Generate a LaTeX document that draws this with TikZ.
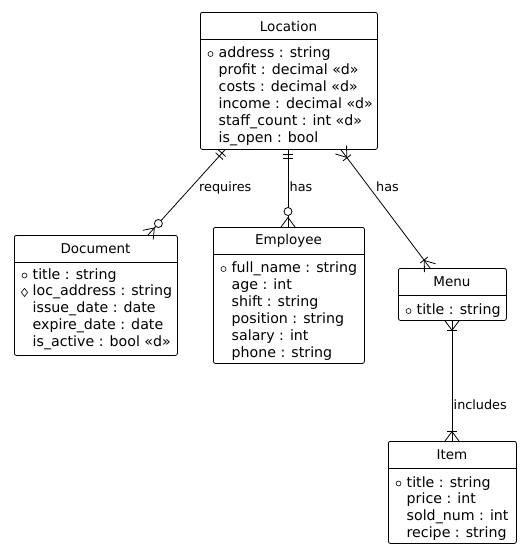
\documentclass[tikz,border=0pt]{standalone}
\usepackage{fontspec}
\setmainfont{DejaVu Sans}
\usetikzlibrary{calc,shapes.geometric}
\tikzset{
  ebox/.style={draw, line width=0.8pt, rounded corners=2pt, anchor=north west, inner sep=0pt},
  ettl/.style={font=\fontsize{13.5}{16}\selectfont, inner sep=0pt},
  eattr/.style={font=\fontsize{14.2}{17}\selectfont, anchor=west, inner sep=0pt, text height=10pt, text depth=3pt, yshift=-2pt},
  pkc/.style={draw, circle, line width=0.6pt, minimum size=5pt, inner sep=0pt, yshift=-2pt},
  fkd/.style={draw, diamond, line width=0.6pt, minimum width=6.5pt, minimum height=8.5pt, inner sep=0pt, yshift=-2pt},
  conn/.style={line width=0.8pt},
  rlbl/.style={font=\fontsize{12.8}{15}\selectfont, inner sep=0pt, text height=9pt, text depth=3pt},
}
\newcommand\mkfoot[2]{%
  \draw[conn] ($(#1)!7pt!90:(#2)$) -- ($(#1)!9.5pt!(#2)$) -- ($(#1)!7pt!-90:(#2)$);}
\newcommand\mkbar[3]{%
  \coordinate (mktmp) at ($(#1)!#3!(#2)$);
  \draw[conn] ($(mktmp)!5pt!90:(#2)$) -- ($(mktmp)!5pt!-90:(#2)$);}
\newcommand\mkcirc[2]{%
  \coordinate (mktmp) at ($(#1)!15.5pt!(#2)$);
  \draw[conn, fill=white] (mktmp) circle (4pt);}
\begin{document}
\begin{tikzpicture}[x=1pt,y=-1pt]
\useasboundingbox (0,0) rectangle (521,549);

% ---------------- Location
\node[ebox, minimum width=177pt, minimum height=137pt] (loc) at (200,12) {};
\draw[conn] ([yshift=-27pt]loc.north west) -- ([yshift=-27pt]loc.north east);
\node[ettl] (locT) at (288.5,26) {Location};
\node[pkc] (locK) at (210.5,52) {};
\node[eattr] (locA1) at (218.5,52) {address : string};
\node[eattr] (locA2) at (218.5,68.9) {profit : decimal «d»};
\node[eattr] (locA3) at (218.5,85.8) {costs : decimal «d»};
\node[eattr] (locA4) at (218.5,102.7) {income : decimal «d»};
\node[eattr] (locA5) at (218.5,119.6) {staff\_count : int «d»};
\node[eattr] (locA6) at (218.5,136.5) {is\_open : bool};

% ---------------- Document
\node[ebox, minimum width=163pt, minimum height=120pt] (doc) at (14,235) {};
\draw[conn] ([yshift=-27pt]doc.north west) -- ([yshift=-27pt]doc.north east);
\node[ettl] (docT) at (95.5,249) {Document};
\node[pkc] (docK) at (24.5,273.5) {};
\node[fkd] (docF) at (24.5,290.4) {};
\node[eattr] (docA1) at (32.5,273.5) {title : string};
\node[eattr] (docA2) at (32.5,290.4) {loc\_address : string};
\node[eattr] (docA3) at (32.5,307.3) {issue\_date : date};
\node[eattr] (docA4) at (32.5,324.2) {expire\_date : date};
\node[eattr] (docA5) at (32.5,341.1) {is\_active : bool «d»};

% ---------------- Employee
\node[ebox, minimum width=151pt, minimum height=136pt] (emp) at (213,227) {};
\draw[conn] ([yshift=-27pt]emp.north west) -- ([yshift=-27pt]emp.north east);
\node[ettl] (empT) at (288.5,241) {Employee};
\node[pkc] (empK) at (223.5,267) {};
\node[eattr] (empA1) at (231.5,267) {full\_name : string};
\node[eattr] (empA2) at (231.5,283.9) {age : int};
\node[eattr] (empA3) at (231.5,300.8) {shift : string};
\node[eattr] (empA4) at (231.5,317.7) {position : string};
\node[eattr] (empA5) at (231.5,334.6) {salary : int};
\node[eattr] (empA6) at (231.5,351.5) {phone : string};

% ---------------- Menu
\node[ebox, minimum width=108pt, minimum height=52pt] (men) at (398,268) {};
\draw[conn] ([yshift=-27pt]men.north west) -- ([yshift=-27pt]men.north east);
\node[ettl] (menT) at (452,282) {Menu};
\node[pkc] (menK) at (408.5,309) {};
\node[eattr] (menA1) at (416.5,309) {title : string};

% ---------------- Item
\node[ebox, minimum width=128pt, minimum height=102pt] (itm) at (388,441) {};
\draw[conn] ([yshift=-27pt]itm.north west) -- ([yshift=-27pt]itm.north east);
\node[ettl] (itmT) at (452,455) {Item};
\node[pkc] (itmK) at (398.5,481.5) {};
\node[eattr] (itmA1) at (406.5,481.5) {title : string};
\node[eattr] (itmA2) at (406.5,498.4) {price : int};
\node[eattr] (itmA3) at (406.5,515.3) {sold\_num : int};
\node[eattr] (itmA4) at (406.5,532.2) {recipe : string};

% ---------------- connection points
\coordinate (locD) at ([xshift=25pt]loc.south west);
\coordinate (docL) at ([xshift=134pt]doc.north west);
\coordinate (locE) at ([xshift=88pt]loc.south west);
\coordinate (empL) at ([xshift=75pt]emp.north west);
\coordinate (locM) at ([xshift=141pt]loc.south west);
\coordinate (menL) at ([xshift=32pt]men.north west);
\coordinate (menI) at ([xshift=54pt]men.south west);
\coordinate (itmM) at ([xshift=64pt]itm.north west);

% Location -- Document
\draw[conn] (locD) -- (docL);
\mkbar{locD}{docL}{4.5pt}
\mkbar{locD}{docL}{8.5pt}
\mkfoot{docL}{locD}
\mkcirc{docL}{locD}
\node[rlbl, anchor=west] (lblReq) at (199,188) {requires};

% Location -- Employee
\draw[conn] (locE) -- (empL);
\mkbar{locE}{empL}{4.5pt}
\mkbar{locE}{empL}{8.5pt}
\mkfoot{empL}{locE}
\mkcirc{empL}{locE}
\node[rlbl, anchor=west] (lblHas1) at (289.5,188) {has};

% Location -- Menu
\draw[conn] (locM) -- (menL);
\mkfoot{locM}{menL}
\mkbar{locM}{menL}{10pt}
\mkfoot{menL}{locM}
\mkbar{menL}{locM}{10pt}
\node[rlbl, anchor=west] (lblHas2) at (376,188) {has};

% Menu -- Item
\draw[conn] (menI) -- (itmM);
\mkfoot{menI}{itmM}
\mkbar{menI}{itmM}{10pt}
\mkfoot{itmM}{menI}
\mkbar{itmM}{menI}{10pt}
\node[rlbl, anchor=west] (lblInc) at (453.5,406) {includes};
\end{tikzpicture}
\end{document}
